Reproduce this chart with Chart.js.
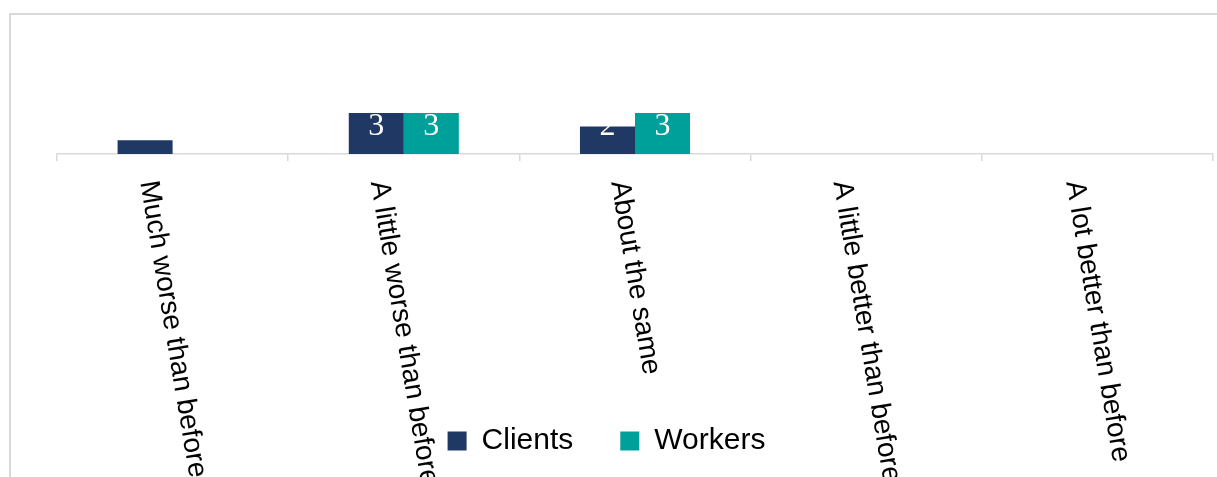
<!DOCTYPE html>
<html>
<head>
<meta charset="utf-8">
<script src="https://cdn.jsdelivr.net/npm/chart.js@4/dist/chart.umd.min.js"></script>
<style>
  html, body { margin: 0; padding: 0; background: #fff; }
  #wrap { width: 1217px; height: 477px; }
</style>
</head>
<body>
<div id="wrap"><canvas id="chart" width="1217" height="477"></canvas></div>
<script>
const categories = [
  "Much worse than before",
  "A little worse than before",
  "About the same",
  "A little better than before",
  "A lot better than before",
];
const clients = [1, 3, 2, 0, 0];
const workers = [0, 3, 3, 0, 0];

const sans = "'Liberation Sans', Arial, sans-serif";
const serif = "'Liberation Serif', 'Times New Roman', serif";

// light grey frame round the chart
const frame = {
  id: "frame",
  beforeDraw(chart) {
    const { ctx } = chart;
    ctx.save();
    ctx.strokeStyle = "#d9d9d9";
    ctx.lineWidth = 2;
    ctx.strokeRect(10, 14, 1400, 700);
    ctx.restore();
  },
};

// category labels, turned to read top-down like the original
const slantLabels = {
  id: "slantLabels",
  afterDraw(chart) {
    const { ctx } = chart;
    const xScale = chart.scales.x;
    const angle = (80.5 * Math.PI) / 180;
    ctx.save();
    ctx.font = "28px " + sans;
    ctx.fillStyle = "#000";
    ctx.textAlign = "left";
    ctx.textBaseline = "middle";
    chart.data.labels.forEach((label, i) => {
      const cx = xScale.getPixelForTick(i);
      const w = ctx.measureText(label).width;
      ctx.save();
      ctx.translate(cx - (w / 2) * Math.cos(angle), xScale.top + 27);
      ctx.rotate(angle);
      ctx.fillText(label, 0, 0);
      ctx.restore();
    });
    ctx.restore();
  },
};

// white value labels inside the bars
const valueLabels = {
  id: "valueLabels",
  afterDatasetsDraw(chart) {
    const { ctx } = chart;
    const yScale = chart.scales.y;
    ctx.save();
    ctx.font = "32px " + serif;
    ctx.fillStyle = "#fff";
    ctx.textAlign = "center";
    ctx.textBaseline = "alphabetic";
    chart.data.datasets.forEach((ds, di) => {
      chart.getDatasetMeta(di).data.forEach((bar, i) => {
        const v = ds.data[i];
        if (!v) return;
        ctx.fillText(String(v), bar.x, yScale.getPixelForValue(1.4));
      });
    });
    ctx.restore();
  },
};

const ctx = document.getElementById("chart");
const chart = new Chart(ctx, {
  type: "bar",
  data: {
    labels: categories,
    datasets: [
      {
        label: "Clients",
        data: clients,
        backgroundColor: "#203864",
        borderWidth: 0,
      },
      {
        label: "Workers",
        data: workers,
        backgroundColor: "#00a09a",
        borderWidth: 0,
      },
    ],
  },
  options: {
    responsive: false,
    animation: false,
    categoryPercentage: 0.476,
    barPercentage: 1,
    layout: {
      padding: { top: 17, right: 4, bottom: 11, left: 0 },
    },
    plugins: {
      legend: {
        position: "bottom",
        labels: {
          boxWidth: 19,
          boxHeight: 19,
          padding: 47,
          color: "#000",
          font: { family: sans, size: 30 },
        },
      },
      tooltip: { enabled: false },
    },
    scales: {
      y: {
        min: 0,
        max: 10,
        ticks: { display: false },
        grid: { display: false },
        border: { display: false },
        afterFit(scale) {
          scale.width = 57;
        },
      },
      x: {
        ticks: { display: false },
        grid: {
          offset: true,
          drawOnChartArea: false,
          drawTicks: true,
          tickLength: 7,
          color: "#d9d9d9",
          lineWidth: 1.5,
        },
        border: { display: true, color: "#d9d9d9", width: 1.5 },
        afterFit(scale) {
          scale.height = 225;
        },
      },
    },
  },
  plugins: [frame, slantLabels, valueLabels],
});
</script>
</body>
</html>
